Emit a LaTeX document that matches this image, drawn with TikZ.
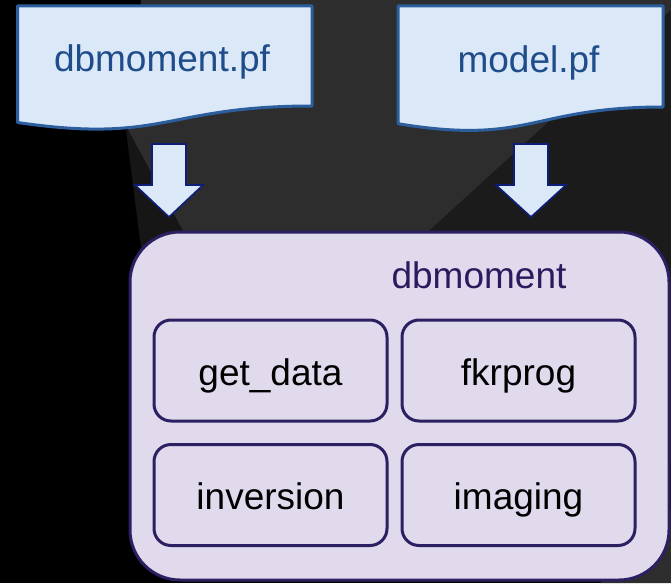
\documentclass[tikz,border=0pt]{standalone}
\usepackage{fontspec}
\setmainfont{Liberation Sans}
\newcommand\diafont{\fontsize{37}{44}\selectfont}
\definecolor{bgblack}{RGB}{0,0,0}
\definecolor{bggray}{RGB}{45,45,45}
\definecolor{bgdark}{RGB}{27,27,27}
\definecolor{bgstrip}{RGB}{22,22,22}
\definecolor{docfill}{RGB}{218,232,247}
\definecolor{docline}{RGB}{44,94,158}
\definecolor{doctext}{RGB}{31,76,138}
\definecolor{arrowline}{RGB}{14,30,120}
\definecolor{boxfill}{RGB}{225,218,237}
\definecolor{boxline}{RGB}{44,31,98}
\definecolor{boxtitle}{RGB}{43,27,94}
\begin{document}
\begin{tikzpicture}[x=1pt,y=-1pt,
  docshape/.style={fill=docfill,draw=docline,line width=3pt,line join=round},
  doclabel/.style={anchor=base,inner sep=0pt,text=doctext,font=\diafont},
  blockarrow/.style={fill=docfill,draw=arrowline,line width=1.6pt,line join=miter},
  outerbox/.style={fill=boxfill,draw=boxline,line width=3pt,rounded corners=50pt,
    minimum width=539pt,minimum height=348pt,inner sep=0pt},
  titlelabel/.style={anchor=base,inner sep=0pt,text=boxtitle,font=\diafont},
  innerbox/.style={fill=boxfill,draw=boxline,line width=3pt,rounded corners=17pt,
    minimum width=233pt,minimum height=101pt,inner sep=0pt,
    text height=29pt,text depth=0pt,font=\diafont}]
\useasboundingbox (0,0) rectangle (671,583);
\clip (0,0) rectangle (671,583);

% background panels
\fill[bgblack] (0,0) rectangle (671,583);
\fill[bggray] (141,0) -- (690,0) -- (380,285) -- (200,285) -- (185,235) -- (128,130) -- cycle;
\fill[bgstrip] (126,130) -- (128,130) -- (190,245) -- (150,300) -- (140,240) -- cycle;
\fill[bgdark] (682,0) -- (700,0) -- (700,480) -- (380,285) -- (430,230) -- cycle;
\fill[bggray] (600,583) -- (700,583) -- (700,480) -- cycle;

% parameter files
\draw[docshape] (17.5,6) -- (312,6) -- (312,106)
  .. controls (164.75,106) and (164.75,144) .. (17.5,122.5) -- cycle;
\node[doclabel] (pfA) at (162,72) {dbmoment.pf};
\draw[docshape] (398,6) -- (663,6) -- (663,107)
  .. controls (530.5,107) and (530.5,145.5) .. (398,123.7) -- cycle;
\node[doclabel] (pfB) at (528.5,73) {model.pf};

% block arrows
\draw[blockarrow] (152,144) -- (186,144) -- (186,185) -- (203,185) -- (169,217)
  -- (135,185) -- (152,185) -- cycle;
\draw[blockarrow] (514,144) -- (548,144) -- (548,185) -- (566,185) -- (531,217)
  -- (496,185) -- (514,185) -- cycle;

% program container
\node[outerbox] (dbm) at (399.5,406) {};
\node[titlelabel] (dbmtitle) at (479,288) {dbmoment};

% modules
\node[innerbox] (getdata) at (270.5,370.5) {get\_data};
\node[innerbox] (fkrprog) at (518.5,370.5) {fkrprog};
\node[innerbox] (inversion) at (270.5,495) {inversion};
\node[innerbox] (imaging) at (518.5,495) {imaging};
\end{tikzpicture}
\end{document}
